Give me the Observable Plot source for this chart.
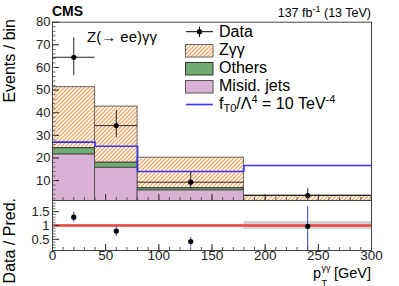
<!DOCTYPE html>
<html><head><meta charset="utf-8">
<script src="https://cdn.jsdelivr.net/npm/d3@7"></script>
<script src="https://cdn.jsdelivr.net/npm/@observablehq/plot@0.6"></script>
<style>
body{margin:0;background:#fff}
#wrap{position:relative;width:399px;height:286px;overflow:hidden;background:#fff}
</style>
</head><body><div id="wrap"></div>
<script>
const FONT = '"Liberation Sans", Arial, Helvetica, sans-serif';
// ---- data ----
const binEdges = [0, 40, 80, 180, 300];
const binCenters = [20, 60, 130, 240];
const misidJets = [21.5, 15.6, 5.6, 0.6];
const others = [2.8, 2.3, 1.0, 0.2];
const zgg = [27.0, 24.8, 13.5, 2.6];
const aqgcTotal = [27.0, 25.2, 14.0, 16.7];
const dataY = [64.5, 34.3, 9.3, 3.4];
const dataLo = [56.4, 28.9, 6.4, 1.6];
const dataHi = [73.1, 41.0, 13.7, 6.4];
const ratioY = [1.30, 0.80, 0.42, 0.97];
const ratioLo = [1.12, 0.60, 0.24, -0.2];
const ratioHi = [1.48, 0.96, 0.58, 1.68];
const ratioUnc = [0.04, 0.04, 0.04, 0.14];
const xTicks = [0, 50, 100, 150, 200, 250, 300];
const xMinor = d3.range(0, 301, 10);
const yTicks = [10, 20, 30, 40, 50, 60, 70, 80];
const yMinor = d3.range(2, 80, 2);
const ratioTicks = [0.5, 1, 1.5];
const ratioMinor = d3.range(0.2, 1.85, 0.1);

const wrap = document.getElementById("wrap");

// overlay svg (defs + texts + legend)
const overlay = d3.create("svg").attr("width", 399).attr("height", 286)
  .style("position", "absolute").style("left", "0px").style("top", "0px")
  .style("pointer-events", "none").style("font-family", FONT);
const pat = overlay.append("defs").append("pattern").attr("id", "hatch")
  .attr("patternUnits", "userSpaceOnUse").attr("width", 4).attr("height", 4);
pat.append("rect").attr("width", 4).attr("height", 4).attr("fill", "#fff");
pat.append("path").attr("d", "M-1,1 l2,-2 M0,4 l4,-4 M3,5 l2,-2")
  .attr("stroke", "#f99d50").attr("stroke-width", 1.2);

const stackRows = binCenters.map((c, i) => ({
  x1: binEdges[i], x2: binEdges[i + 1],
  p0: 0, p1: misidJets[i], g1: misidJets[i] + others[i],
  t: misidJets[i] + others[i] + zgg[i]
}));
const stepPts = binEdges.map((x, i) => ({x, y: aqgcTotal[Math.min(i, aqgcTotal.length - 1)]}));
const dataRows = binCenters.map((xc, i) => ({xc, x1: binEdges[i], x2: binEdges[i + 1], y: dataY[i], lo: dataLo[i], hi: dataHi[i]}));
const ratioRows = binCenters.map((xc, i) => ({xc, y: ratioY[i], lo: ratioLo[i], hi: ratioHi[i]}));
const bandRows = binCenters.map((xc, i) => ({x1: binEdges[i], x2: binEdges[i + 1], lo: 1 - ratioUnc[i], hi: 1 + ratioUnc[i]}));

const blank = () => "";
const style = {fontFamily: FONT, fontSize: "13px", color: "#222", background: "transparent", overflow: "visible"};

const mainPlot = Plot.plot({
  width: 399, height: 200,
  marginLeft: 52, marginRight: 28, marginTop: 21.7, marginBottom: 0,
  style,
  x: {domain: [0, 300]},
  y: {domain: [1.2, 80]},
  marks: [
    Plot.rect(stackRows, {x1: "x1", x2: "x2", y1: "g1", y2: "t", fill: "url(#hatch)", stroke: "#666", clip: true}),
    Plot.rect(stackRows, {x1: "x1", x2: "x2", y1: "p1", y2: "g1", fill: "#72ab72", stroke: "#333", clip: true}),
    Plot.rect(stackRows, {x1: "x1", x2: "x2", y1: "p0", y2: "p1", fill: "#dcb1d6", stroke: "#555", clip: true}),
    Plot.line(stepPts, {x: "x", y: "y", curve: "step-after", stroke: "#3636ff", strokeWidth: 1.6}),
    Plot.ruleY(dataRows, {y: "y", x1: "x1", x2: "x2", stroke: "#222", strokeWidth: 1}),
    Plot.ruleX(dataRows, {x: "xc", y1: "lo", y2: "hi", stroke: "#222", strokeWidth: 1, clip: true}),
    Plot.dot(dataRows, {x: "xc", y: "y", r: 2.6, fill: "#000", stroke: "none"}),
    Plot.axisY({ticks: yTicks, tickSize: 0, tickPadding: 2, fontSize: 13, label: null}),
    Plot.axisY({ticks: yTicks, tickSize: -7, tickFormat: blank, label: null}),
    Plot.axisY({ticks: yMinor, tickSize: -3.5, tickFormat: blank, label: null, stroke: "#666"}),
    Plot.axisX({ticks: xTicks, tickSize: -6, tickFormat: blank, label: null}),
    Plot.axisX({ticks: xMinor, tickSize: -3, tickFormat: blank, label: null, stroke: "#555"}),
    Plot.frame({stroke: "#444"})
  ]
});
mainPlot.style.position = "absolute"; mainPlot.style.left = "0px"; mainPlot.style.top = "0px";
wrap.appendChild(mainPlot);

const ratioPlot = Plot.plot({
  width: 399, height: 86,
  marginLeft: 52, marginRight: 28, marginTop: 0, marginBottom: 36,
  style,
  x: {domain: [0, 300]},
  y: {domain: [0.1, 1.9]},
  marks: [
    Plot.rect(bandRows, {x1: "x1", x2: "x2", y1: "lo", y2: "hi", fill: "#d2d2d2"}),
    Plot.ruleY([1], {stroke: "#e8463c", strokeWidth: 2.4}),
    Plot.ruleX(ratioRows, {x: "xc", y1: "lo", y2: "hi", stroke: "#3c3cc8", strokeWidth: 1, clip: true}),
    Plot.dot(ratioRows, {x: "xc", y: "y", r: 2.6, fill: "#000", stroke: "none"}),
    Plot.axisY({ticks: ratioTicks, tickSize: 0, tickPadding: 3, fontSize: 13, label: null, tickFormat: d => String(d)}),
    Plot.axisY({ticks: ratioTicks, tickSize: -7, tickFormat: blank, label: null}),
    Plot.axisY({ticks: ratioMinor, tickSize: -3.5, tickFormat: blank, label: null, stroke: "#666"}),
    Plot.axisX({ticks: xTicks, tickSize: 0, tickPadding: 0, fontSize: 13.5, label: null}),
    Plot.axisX({ticks: xTicks, tickSize: -6, tickFormat: blank, label: null}),
    Plot.axisX({ticks: xMinor, tickSize: -3, tickFormat: blank, label: null, stroke: "#555"}),
    Plot.frame({stroke: "#444"})
  ]
});
ratioPlot.style.position = "absolute"; ratioPlot.style.left = "0px"; ratioPlot.style.top = "200px";
wrap.appendChild(ratioPlot);

// ---- texts ----
const T = overlay.append("g").attr("fill", "#000");
T.append("text").attr("x", 52).attr("y", 15.5).attr("font-size", 14).attr("font-weight", "bold").text("CMS");
const lumi = T.append("text").attr("x", 371).attr("y", 16.7).attr("font-size", 12.5).attr("text-anchor", "end");
lumi.append("tspan").text("137 fb");
lumi.append("tspan").attr("dy", -5).attr("font-size", 9).text("-1");
lumi.append("tspan").attr("dy", 5).text(" (13 TeV)");
T.append("text").attr("x", 87).attr("y", 41.7).attr("font-size", 15).text("Z(\u2192 ee)\u03b3\u03b3");
T.append("text").attr("transform", "translate(15,19) rotate(-90)").attr("font-size", 16).attr("text-anchor", "end").text("Events / bin");
T.append("text").attr("transform", "translate(15,198) rotate(-90)").attr("font-size", 16).attr("text-anchor", "end").text("Data / Pred.");
// x title
T.append("text").attr("x", 313).attr("y", 278).attr("font-size", 14.5).text("p");
T.append("text").attr("x", 321.5).attr("y", 271).attr("font-size", 9).text("\u03b3\u03b3");
T.append("text").attr("x", 321.5).attr("y", 285.5).attr("font-size", 9).text("T");
T.append("text").attr("x", 371).attr("y", 278).attr("font-size", 14.5).attr("text-anchor", "end").text("[GeV]");

// ---- legend ----
const L = overlay.append("g");
L.append("line").attr("x1", 186).attr("x2", 213).attr("y1", 31.7).attr("y2", 31.7).attr("stroke", "#000");
L.append("line").attr("x1", 199.5).attr("x2", 199.5).attr("y1", 26.5).attr("y2", 37).attr("stroke", "#000");
L.append("circle").attr("cx", 199.5).attr("cy", 31.7).attr("r", 2.6).attr("fill", "#000");
L.append("rect").attr("x", 185.5).attr("y", 44.5).attr("width", 27.5).attr("height", 12.5).attr("fill", "url(#hatch)").attr("stroke", "#666");
L.append("rect").attr("x", 185.5).attr("y", 62.5).attr("width", 27.5).attr("height", 12.5).attr("fill", "#72ab72").attr("stroke", "#333");
L.append("rect").attr("x", 185.5).attr("y", 80.5).attr("width", 27.5).attr("height", 12.5).attr("fill", "#dcb1d6").attr("stroke", "#555");
L.append("line").attr("x1", 186).attr("x2", 213).attr("y1", 104.5).attr("y2", 104.5).attr("stroke", "#3636ff").attr("stroke-width", 1.6);
const LT = L.append("g").attr("font-size", 16).attr("fill", "#000");
LT.append("text").attr("x", 219).attr("y", 37).text("Data");
LT.append("text").attr("x", 219).attr("y", 55).text("Z\u03b3\u03b3");
LT.append("text").attr("x", 219).attr("y", 73.3).text("Others");
LT.append("text").attr("x", 219).attr("y", 91).text("Misid. jets");
const ft = LT.append("text").attr("x", 219).attr("y", 109);
ft.append("tspan").text("f");
ft.append("tspan").attr("dy", 3).attr("font-size", 11).text("T0");
ft.append("tspan").attr("dy", -3).text("/\u039b");
ft.append("tspan").attr("dy", -6).attr("font-size", 11).text("4");
ft.append("tspan").attr("dy", 6).text(" = 10 TeV");
ft.append("tspan").attr("dy", -6).attr("font-size", 11).text("-4");

wrap.appendChild(overlay.node());
</script>
</body></html>
